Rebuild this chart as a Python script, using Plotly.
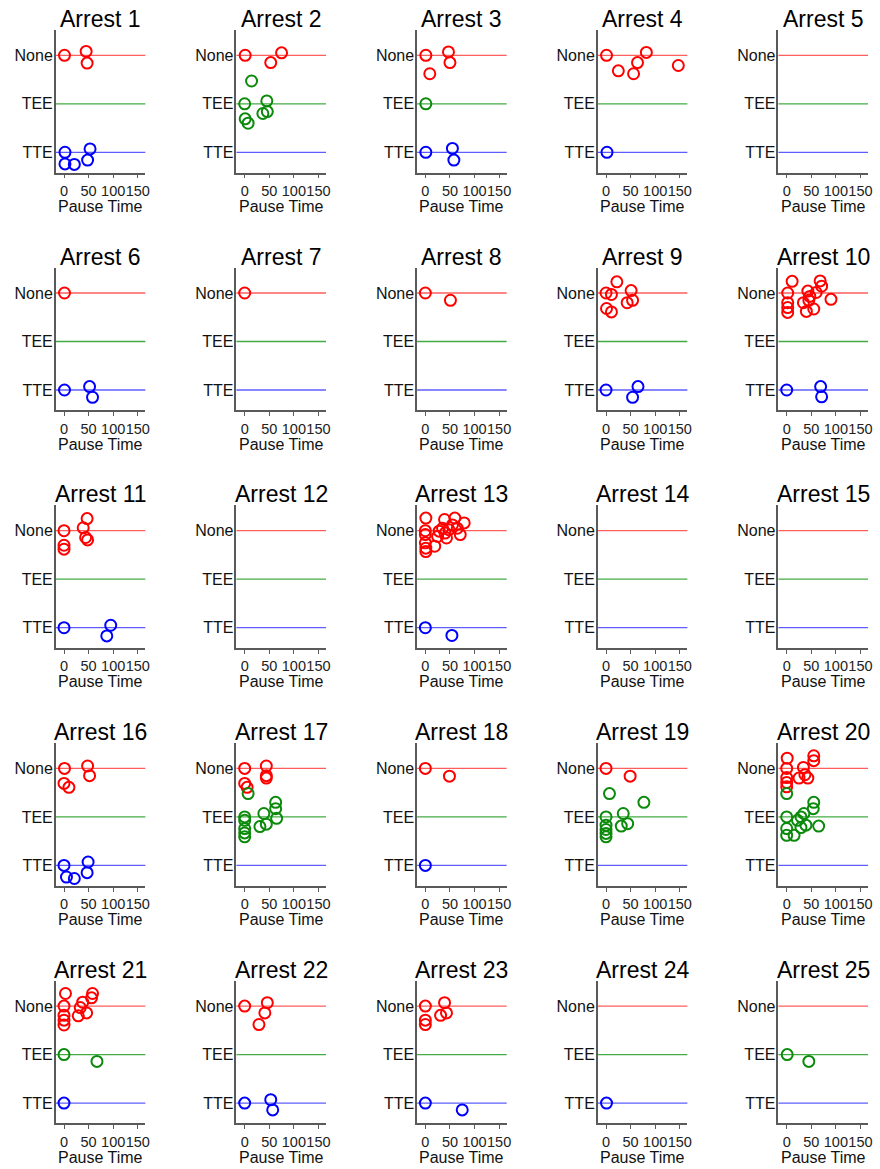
import plotly.graph_objects as go

# ---------------- data ----------------
ARRESTS = [f"Arrest {i}" for i in range(1, 26)]
CATEGORIES = ["TTE", "TEE", "None"]          # bottom -> top
X_TICKS = [0, 50, 100, 150]
X_LABEL = "Pause Time"

# pause times (x) and vertical jitter (dy, in category units) per arrest
NONE_X = [
    [1, 45, 47],
    [1, 75, 53],
    [1, 47, 50, 9],
    [1, 82, 64, 25, 56, 147],
    [],
    [1],
    [0],
    [0, 51],
    [0, 22, 11, 51, 54, 43, 1, 11],
    [2, 2, 2, 2, 11, 34, 43, 47, 40, 55, 60, 68, 71, 90, 45],
    [0, 0, 0, 47, 39, 44, 48],
    [],
    [1, 0, 0, 0, 1, 1, 19, 28, 35, 39, 43, 48, 60, 79, 71, 65, 25, 55, 40],
    [],
    [],
    [1, 48, 52, 0, 10],
    [0, 44, 44, 44, 0, 5],
    [0, 49],
    [0, 49],
    [1, 0, 0, 0, 0, 55, 55, 34, 37, 25, 43],
    [3, 0, 0, 0, 0, 58, 56, 38, 33, 46, 29],
    [0, 46, 41, 29],
    [0, 0, 0, 39, 31, 43],
    [],
    [],
]
NONE_DY = [
    [0, 0.08, -0.16],
    [0, 0.05, -0.15],
    [0, 0.07, -0.15, -0.38],
    [0, 0.06, -0.15, -0.32, -0.38, -0.21],
    [],
    [0],
    [0],
    [0, -0.15],
    [0, 0.23, -0.03, 0.05, -0.15, -0.2, -0.32, -0.39],
    [0, -0.2, -0.3, -0.4, 0.24, -0.2, 0.04, -0.07, -0.38, -0.33, 0.01, 0.25, 0.14, -0.13, -0.15],
    [0, -0.3, -0.38, 0.25, 0.06, -0.14, -0.19],
    [],
    [0.26, 0, -0.08, -0.25, -0.36, -0.43, -0.32, -0.01, 0.05, 0.23, -0.15, 0.02, 0.26, 0.16, -0.08, 0.05, -0.12, 0.12, -0.05],
    [],
    [],
    [0, 0.05, -0.15, -0.31, -0.39],
    [0, 0.05, -0.15, -0.2, -0.31, -0.39],
    [0, -0.16],
    [0, -0.16],
    [0.21, 0, -0.19, -0.29, -0.38, 0.26, 0.16, 0.02, -0.13, -0.2, -0.2],
    [0.26, 0, -0.19, -0.29, -0.39, 0.26, 0.17, 0.08, -0.03, -0.14, -0.2],
    [0, 0.07, -0.14, -0.38],
    [0, -0.29, -0.38, 0.07, -0.19, -0.14],
    [],
    [],
]
TEE_X = [
    [],
    [14, 0, 45, 1, 7, 37, 46],
    [1],
    [], [], [], [], [], [], [], [], [], [], [], [], [],
    [7, 63, 63, 65, 39, 44, 31, 0, 0, 0, 0, 0],
    [],
    [7, 77, 35, 44, 31, 0, 0, 0, 0, 0],
    [0, 0, 55, 54, 65, 29, 35, 22, 39, 29, 15, 0, 0],
    [0, 67],
    [],
    [],
    [],
    [1, 45],
]
TEE_DY = [
    [],
    [0.47, 0, 0.06, -0.31, -0.40, -0.2, -0.16],
    [0],
    [], [], [], [], [], [], [], [], [], [], [], [], [],
    [0.48, 0.30, 0.17, -0.03, 0.07, -0.15, -0.2, 0, -0.07, -0.24, -0.33, -0.41],
    [],
    [0.48, 0.30, 0.07, -0.14, -0.19, 0, -0.17, -0.26, -0.34, -0.41],
    [0.48, 0, 0.3, 0.17, -0.19, 0, 0.07, -0.07, -0.17, -0.22, -0.38, -0.24, -0.38],
    [0, -0.14],
    [],
    [],
    [],
    [0, -0.14],
]
TTE_X = [
    [2, 2, 21, 53, 48],
    [],
    [1, 55, 58],
    [2],
    [],
    [1, 52, 58],
    [],
    [],
    [0, 65, 54],
    [0, 69, 71],
    [0, 95, 87],
    [],
    [0, 54],
    [],
    [],
    [0, 49, 47, 5, 21],
    [],
    [0],
    [],
    [],
    [0],
    [0, 53, 57],
    [0, 75],
    [1],
    [],
]
TTE_DY = [
    [0, -0.24, -0.25, 0.07, -0.16],
    [],
    [0, 0.08, -0.16],
    [0],
    [],
    [0, 0.07, -0.15],
    [],
    [],
    [0, 0.07, -0.15],
    [0, 0.07, -0.14],
    [0, 0.05, -0.17],
    [],
    [0, -0.16],
    [],
    [],
    [0, 0.07, -0.15, -0.24, -0.27],
    [],
    [0],
    [],
    [],
    [0],
    [0, 0.07, -0.14],
    [0, -0.14],
    [0],
    [],
]

# ---------------- style / layout ----------------
W, H = 880, 1169
FONT = "Liberation Sans, Arial, sans-serif"
MARK_COL = {"None": "#ff0000", "TEE": "#0c8a0c", "TTE": "#0000ff"}
LINE_COL = {"None": "rgba(255,40,40,0.75)", "TEE": "rgba(20,150,20,0.8)", "TTE": "rgba(40,40,255,0.75)"}
AXIS_COL = "#5a5a5a"

COL_X0 = 56.0      # px of left axis in col 0
COL_STEP = 181.5
PLOT_W = 90.0
ROW_NONE0 = 55.3   # px of "None" line in row 0
ROW_STEP = 237.7
CAT_PX = 48.5
Y_RANGE = [0.58, 3.52]
X_RANGE = [-16.8, 165.4]

fig = go.Figure()
layout = dict(
    width=W, height=H,
    margin=dict(l=0, r=0, t=0, b=0),
    paper_bgcolor="white", plot_bgcolor="white",
    showlegend=False,
    font=dict(family=FONT, color="#222"),
)
annotations = []
shapes = []

groups = [("None", NONE_X, NONE_DY, 3), ("TEE", TEE_X, TEE_DY, 2), ("TTE", TTE_X, TTE_DY, 1)]

for i, name in enumerate(ARRESTS):
    n = i + 1
    r, c = divmod(i, 5)
    x0 = COL_X0 + COL_STEP * c
    x1 = x0 + PLOT_W
    none_y = ROW_NONE0 + ROW_STEP * r
    top = none_y - (Y_RANGE[1] - 3) * CAT_PX
    bot = none_y + 2 * CAT_PX + (1 - Y_RANGE[0]) * CAT_PX
    xa = "xaxis" if n == 1 else f"xaxis{n}"
    ya = "yaxis" if n == 1 else f"yaxis{n}"
    xr = "x" if n == 1 else f"x{n}"
    yr = "y" if n == 1 else f"y{n}"
    layout[xa] = dict(
        domain=[x0 / W, x1 / W], anchor=yr, range=X_RANGE,
        showline=True, linecolor=AXIS_COL, linewidth=1.5,
        ticks="outside", ticklen=4, tickwidth=1.2, tickcolor=AXIS_COL,
        tickvals=X_TICKS, ticktext=[str(t) for t in X_TICKS], tickangle=0,
        tickfont=dict(size=14.5, color="#222", family=FONT),
        showgrid=False, zeroline=False, fixedrange=True,
    )
    layout[ya] = dict(
        domain=[1 - bot / H, 1 - top / H], anchor=xr, range=Y_RANGE,
        showline=True, linecolor=AXIS_COL, linewidth=1.5,
        ticks="", tickvals=[1, 2, 3], ticktext=CATEGORIES,
        tickfont=dict(size=16, color="#111", family=FONT),
        ticklabelstandoff=-2,
        showgrid=False, zeroline=False, fixedrange=True,
    )
    for gname, gx, gdy, base in groups:
        shapes.append(dict(
            type="line", xref=f"{xr} domain", yref=yr, x0=0, x1=1, y0=base, y1=base,
            line=dict(color=LINE_COL[gname], width=1.3), layer="below",
        ))
        if gx[i]:
            fig.add_trace(go.Scatter(
                x=gx[i], y=[base + d for d in gdy[i]], mode="markers",
                xaxis=xr, yaxis=yr, hoverinfo="skip",
                marker=dict(symbol="circle-open", size=11, color=MARK_COL[gname],
                            line=dict(width=2, color=MARK_COL[gname])),
            ))
    # title
    annotations.append(dict(
        text=name, xref="paper", yref="paper",
        x=(x0 + x1) / 2 / W, y=1 - (none_y - 36.5) / H,
        xanchor="center", yanchor="middle", showarrow=False,
        font=dict(size=23, color="#000", family=FONT),
    ))
    # x label
    annotations.append(dict(
        text=X_LABEL, xref="paper", yref="paper",
        x=(x0 + x1) / 2 / W, y=1 - (none_y + 151) / H,
        xanchor="center", yanchor="middle", showarrow=False,
        font=dict(size=16, color="#111", family=FONT),
    ))

layout["annotations"] = annotations
layout["shapes"] = shapes
fig.update_layout(**layout)
fig.write_html(
    "out.html",
    config={"displayModeBar": False},
    post_script="document.body.style.margin='0px';document.body.style.overflow='hidden';",
)
